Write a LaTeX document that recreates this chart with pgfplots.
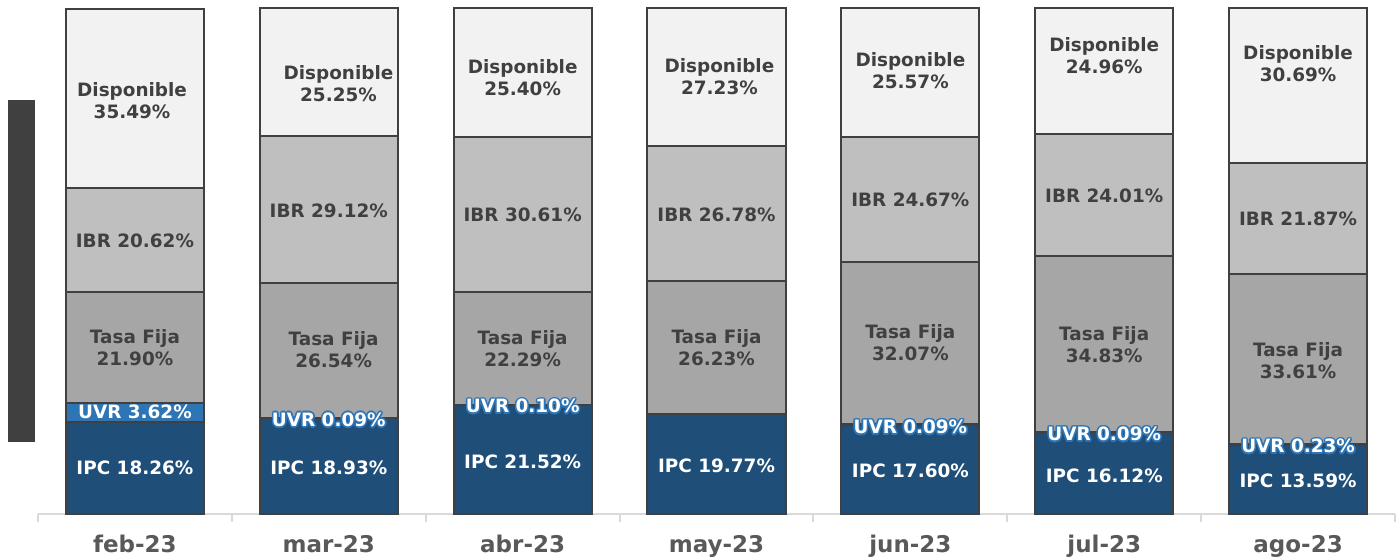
\documentclass[border=0pt]{standalone}
\usepackage{fontspec}
\setmainfont{DejaVu Sans}
\usepackage{pgfplots}
\usepackage{pgfplotstable}
\pgfplotsset{compat=1.18}
\definecolor{ipc}{HTML}{1F4E79}
\definecolor{uvr}{HTML}{2E75B6}
\definecolor{tasa}{HTML}{A6A6A6}
\definecolor{ibr}{HTML}{BFBFBF}
\definecolor{disp}{HTML}{F2F2F2}
\definecolor{edgegray}{HTML}{404040}
\definecolor{axisgray}{HTML}{D9D9D9}
\definecolor{labgray}{HTML}{595959}

\pgfplotstableread{
x ipc uvr tasa ibr disp
0 18.26 3.62 21.90 20.62 35.49
1 18.93 0.09 26.54 29.12 25.25
2 21.52 0.10 22.29 30.61 25.40
3 19.77 0.00 26.23 26.78 27.23
4 17.60 0.09 32.07 24.67 25.57
5 16.12 0.09 34.83 24.01 24.96
6 13.59 0.23 33.61 21.87 30.69
}\datos

\tikzset{
  lab/.style={font=\bfseries\fontsize{9.2}{11}\selectfont, text=edgegray, align=center, inner sep=0pt},
  wlab/.style={lab, text=white}
}
\newcommand\halo[2]{%
  \foreach \a in {0,30,...,330}{\node[lab,text=uvr] at ([shift={(\a:0.8pt)}]#1) {#2};}%
  \node[wlab] at (#1) {#2};}

\begin{document}
\begin{tikzpicture}
\useasboundingbox (-19pt,-23pt) rectangle (681pt,257pt);
\fill[edgegray] (-15pt,36pt) rectangle (-1.5pt,207pt);
\begin{axis}[
    at={(0,0)}, anchor=south west,
    scale only axis, width=678.5pt, height=253pt,
    xmin=-0.5, xmax=6.5, ymin=0, ymax=100,
    ybar stacked, bar width=0.712,
    axis x line=bottom, axis y line=none,
    x axis line style={-, axisgray, line width=1pt},
    xtick={0,...,6},
    xticklabels={feb-23,mar-23,abr-23,may-23,jun-23,jul-23,ago-23},
    major tick length=0pt,
    minor xtick={-0.5,0.5,...,6.5},
    minor tick length=4pt,
    tick align=outside,
    minor tick style={axisgray, line width=1pt},
    xticklabel style={font=\bfseries\fontsize{11.5}{13}\selectfont, text=labgray, yshift=-7pt},
    ytick=\empty,
    clip=false,
    every axis plot/.append style={draw=edgegray, line width=1pt},
]
\addplot[fill=ipc] table[x=x, y=ipc] {\datos};
\addplot[fill=uvr] table[x=x, y=uvr] {\datos};
\addplot[fill=tasa] table[x=x, y=tasa] {\datos};
\addplot[fill=ibr] table[x=x, y=ibr] {\datos};
\addplot[fill=disp] table[x=x, y=disp] {\datos};

% label anchors: d = Disponible, b = IBR, t = Tasa Fija, u = UVR, p = IPC
\coordinate (d0) at (axis cs:-0.015,81.6);
\coordinate (b0) at (axis cs:0,54.0);
\coordinate (t0) at (axis cs:0,32.8);
\coordinate (u0) at (axis cs:0,20.2);
\coordinate (p0) at (axis cs:0,9.1);
\coordinate (d1) at (axis cs:1.05,85.0);
\coordinate (b1) at (axis cs:1,59.9);
\coordinate (t1) at (axis cs:1.025,32.4);
\coordinate (u1) at (axis cs:1,18.6);
\coordinate (p1) at (axis cs:1,9.1);
\coordinate (d2) at (axis cs:2,86.2);
\coordinate (b2) at (axis cs:2,59.1);
\coordinate (t2) at (axis cs:2,32.6);
\coordinate (u2) at (axis cs:2,21.3);
\coordinate (p2) at (axis cs:2,10.3);
\coordinate (d3) at (axis cs:3.015,86.4);
\coordinate (b3) at (axis cs:3,59.1);
\coordinate (t3) at (axis cs:3,32.8);
\coordinate (p3) at (axis cs:3,9.5);
\coordinate (d4) at (axis cs:4,87.7);
\coordinate (b4) at (axis cs:4,62.1);
\coordinate (t4) at (axis cs:4,33.8);
\coordinate (u4) at (axis cs:4,17.2);
\coordinate (p4) at (axis cs:4,8.5);
\coordinate (d5) at (axis cs:5,90.5);
\coordinate (b5) at (axis cs:5,62.8);
\coordinate (t5) at (axis cs:5,33.4);
\coordinate (u5) at (axis cs:5,15.8);
\coordinate (p5) at (axis cs:5,7.5);
\coordinate (d6) at (axis cs:6,89.1);
\coordinate (b6) at (axis cs:6,58.3);
\coordinate (t6) at (axis cs:6,30.4);
\coordinate (u6) at (axis cs:6,13.4);
\coordinate (p6) at (axis cs:6,6.5);
\end{axis}
% feb
\node[lab] at (d0) {Disponible\\35.49\%};
\node[lab] at (b0) {IBR 20.62\%};
\node[lab] at (t0) {Tasa Fija\\21.90\%};
\node[wlab] at (u0) {UVR 3.62\%};
\node[wlab] at (p0) {IPC 18.26\%};
% mar
\node[lab] at (d1) {Disponible\\25.25\%};
\node[lab] at (b1) {IBR 29.12\%};
\node[lab] at (t1) {Tasa Fija\\26.54\%};
\halo{u1}{UVR 0.09\%}
\node[wlab] at (p1) {IPC 18.93\%};
% abr
\node[lab] at (d2) {Disponible\\25.40\%};
\node[lab] at (b2) {IBR 30.61\%};
\node[lab] at (t2) {Tasa Fija\\22.29\%};
\halo{u2}{UVR 0.10\%}
\node[wlab] at (p2) {IPC 21.52\%};
% may
\node[lab] at (d3) {Disponible\\27.23\%};
\node[lab] at (b3) {IBR 26.78\%};
\node[lab] at (t3) {Tasa Fija\\26.23\%};
\node[wlab] at (p3) {IPC 19.77\%};
% jun
\node[lab] at (d4) {Disponible\\25.57\%};
\node[lab] at (b4) {IBR 24.67\%};
\node[lab] at (t4) {Tasa Fija\\32.07\%};
\halo{u4}{UVR 0.09\%}
\node[wlab] at (p4) {IPC 17.60\%};
% jul
\node[lab] at (d5) {Disponible\\24.96\%};
\node[lab] at (b5) {IBR 24.01\%};
\node[lab] at (t5) {Tasa Fija\\34.83\%};
\halo{u5}{UVR 0.09\%}
\node[wlab] at (p5) {IPC 16.12\%};
% ago
\node[lab] at (d6) {Disponible\\30.69\%};
\node[lab] at (b6) {IBR 21.87\%};
\node[lab] at (t6) {Tasa Fija\\33.61\%};
\halo{u6}{UVR 0.23\%}
\node[wlab] at (p6) {IPC 13.59\%};
\end{tikzpicture}
\end{document}
